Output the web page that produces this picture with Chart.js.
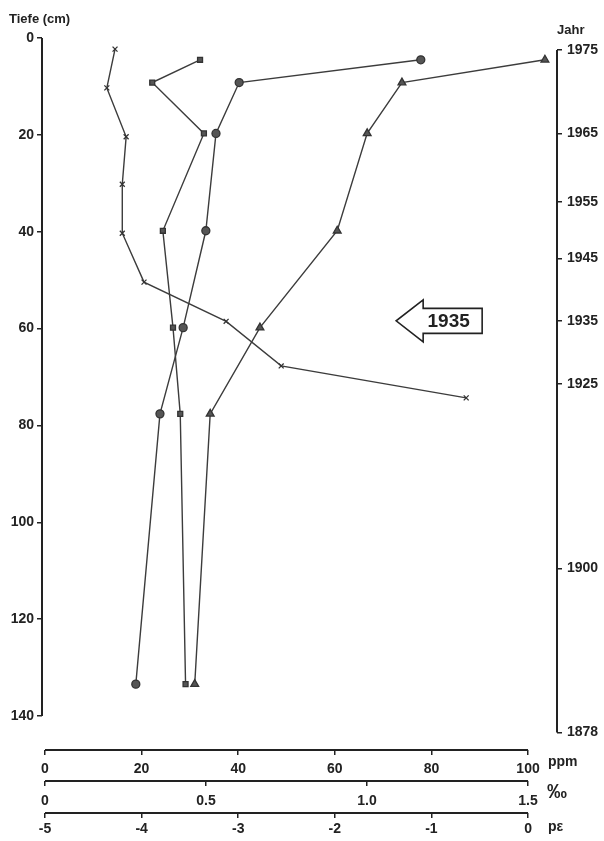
<!DOCTYPE html>
<html>
<head>
<meta charset="utf-8">
<script src="https://cdn.jsdelivr.net/npm/chart.js@4.4.1/dist/chart.umd.min.js"></script>
<style>
  html, body { margin: 0; padding: 0; background: #fff; }
  canvas { display: block; }
</style>
</head>
<body>
<canvas id="profile" width="604" height="841"></canvas>
<script>
// depth profile, depths in cm, values read on the ppm scale
const crossDepth = [2.3, 10.3, 20.4, 30.2, 40.3, 50.4, 58.5, 67.7, 74.3];
const crossValues = [14.5, 12.8, 16.8, 16.0, 16.0, 20.5, 37.5, 48.9, 87.2];

const sampleDepth = [4.5, 9.2, 19.7, 39.8, 59.8, 77.6, 133.4];
const squareValues = [32.1, 22.2, 32.9, 24.4, 26.5, 28.0, 29.1];
const circleValues = [77.8, 40.2, 35.4, 33.3, 28.6, 23.8, 18.8];
const triangleValues = [103.5, 73.9, 66.7, 60.5, 44.5, 34.2, 31.0];

const depthTicks = [0, 20, 40, 60, 80, 100, 120, 140];
const yearLabels = ['1975', '1965', '1955', '1945', '1935', '1925', '1900', '1878'];
const yearDepths = [2.5, 19.7, 33.8, 45.5, 58.4, 71.4, 109.5, 143.4];
const ppmTicks = [0, 20, 40, 60, 80, 100];
const permilleTicks = [0, 0.5, 1.0, 1.5];
const peTicks = [-5, -4, -3, -2, -1, 0];
const markerYear = '1935';

const INK = '#222';
const FONT = '"Liberation Sans", Arial, sans-serif';

function pts(xs, ys) {
    return xs.map((v, i) => ({x: v, y: ys[i]}));
}

function series(data, style, radius) {
    return {
        data: data,
        showLine: true,
        borderColor: '#3c3c3c',
        borderWidth: 1.4,
        pointStyle: style,
        pointRadius: radius,
        pointBackgroundColor: '#555',
        pointBorderColor: '#333',
        pointBorderWidth: 1.3,
        clip: false
    };
}

function tickAxis(extra, pad) {
    return Object.assign({
        border: {display: false},
        grid: {drawOnChartArea: false, drawTicks: true, tickLength: 5, color: INK, lineWidth: 1.5},
        ticks: {color: INK, padding: pad, font: {family: FONT, size: 14, weight: 'bold'}, autoSkip: false, maxRotation: 0}
    }, extra);
}

function setTicks(values) {
    return (scale) => { scale.ticks = values.map(v => ({value: v})); };
}

function line(ctx, x1, y1, x2, y2) {
    ctx.beginPath();
    ctx.moveTo(x1, y1);
    ctx.lineTo(x2, y2);
    ctx.stroke();
}

// axis lines, unit labels and the 1935 arrow
const frame = {
    id: 'frame',
    afterDraw(chart) {
        const {ctx, chartArea, scales} = chart;
        ctx.save();
        ctx.strokeStyle = INK;
        ctx.lineWidth = 2;
        line(ctx, chartArea.left, scales.y.getPixelForValue(depthTicks[0]),
            chartArea.left, scales.y.getPixelForValue(depthTicks[depthTicks.length - 1]));
        line(ctx, chartArea.right, scales.yr.getPixelForValue(yearDepths[0]),
            chartArea.right, scales.yr.getPixelForValue(yearDepths[yearDepths.length - 1]));
        [['x', ppmTicks], ['xm', permilleTicks], ['xe', peTicks]].forEach(([id, t]) => {
            const s = scales[id];
            line(ctx, s.getPixelForValue(t[0]), s.top, s.getPixelForValue(t[t.length - 1]), s.top);
        });

        ctx.fillStyle = INK;
        ctx.textBaseline = 'middle';
        ctx.font = 'bold 13px ' + FONT;
        ctx.fillText('Tiefe (cm)', 9, 19);
        ctx.fillText('Jahr', 557, 30);
        ctx.font = 'bold 14px ' + FONT;
        ctx.fillText('ppm', 548, scales.x.top + 12);
        ctx.fillText('pε', 548, scales.xe.top + 14);
        ctx.font = 'bold 20px ' + FONT;
        ctx.fillText('‰', 547, scales.xm.top + 11);

        // arrow pointing at the 1935 level
        const tipX = scales.x.getPixelForValue(72.7);
        const tipY = scales.yr.getPixelForValue(yearDepths[yearLabels.indexOf(markerYear)]);
        const headX = tipX + 27, boxR = tipX + 86;
        ctx.lineWidth = 1.6;
        ctx.beginPath();
        ctx.moveTo(headX, tipY - 12.5);
        ctx.lineTo(headX, tipY - 21);
        ctx.lineTo(tipX, tipY);
        ctx.lineTo(headX, tipY + 21);
        ctx.lineTo(headX, tipY + 12.5);
        ctx.lineTo(boxR, tipY + 12.5);
        ctx.lineTo(boxR, tipY - 12.5);
        ctx.closePath();
        ctx.stroke();
        ctx.font = 'bold 19px ' + FONT;
        ctx.textAlign = 'center';
        ctx.fillText(markerYear, (headX + boxR) / 2 - 4, tipY + 1);
        ctx.restore();
    }
};

new Chart(document.getElementById('profile'), {
    type: 'scatter',
    data: {
        datasets: [
            series(pts(crossValues, crossDepth), 'crossRot', 3.5),
            series(pts(squareValues, sampleDepth), 'rect', 3.5),
            series(pts(circleValues, sampleDepth), 'circle', 4),
            series(pts(triangleValues, sampleDepth), 'triangle', 4.5)
        ]
    },
    options: {
        responsive: false,
        animation: false,
        layout: {padding: {top: 38, left: 0, right: 0, bottom: 0}},
        plugins: {legend: {display: false}, tooltip: {enabled: false}},
        scales: {
            y: tickAxis({
                type: 'linear', position: 'left', reverse: true, min: 0, max: 147,
                afterBuildTicks: setTicks(depthTicks),
                afterFit: (s) => { s.width = 42; }
            }, 3),
            yr: tickAxis({
                type: 'linear', position: 'right', reverse: true, min: 0, max: 147,
                afterBuildTicks: setTicks(yearDepths),
                afterFit: (s) => { s.width = 47; }
            }, 5),
            x: tickAxis({
                type: 'linear', position: 'bottom', weight: 0, min: -0.621, max: 106,
                afterBuildTicks: setTicks(ppmTicks),
                afterFit: (s) => { s.height = 31; }
            }, 6),
            xm: tickAxis({
                type: 'linear', position: 'bottom', weight: 1, min: -0.00932, max: 1.59,
                afterBuildTicks: setTicks(permilleTicks),
                afterFit: (s) => { s.height = 32; }
            }, 7),
            xe: tickAxis({
                type: 'linear', position: 'bottom', weight: 2, min: -5.031, max: 0.3,
                afterBuildTicks: setTicks(peTicks),
                afterFit: (s) => { s.height = 28; }
            }, 3)
        }
    },
    plugins: [frame]
});

// tick label text that the number formatter would not give
const c = Chart.getChart('profile');
c.options.scales.yr.ticks.callback = (v, i) => yearLabels[i];
c.options.scales.xm.ticks.callback = (v) => (v === 0 ? '0' : v.toFixed(1));
c.options.scales.xe.ticks.callback = (v) => String(v);
c.update();
</script>
</body>
</html>
